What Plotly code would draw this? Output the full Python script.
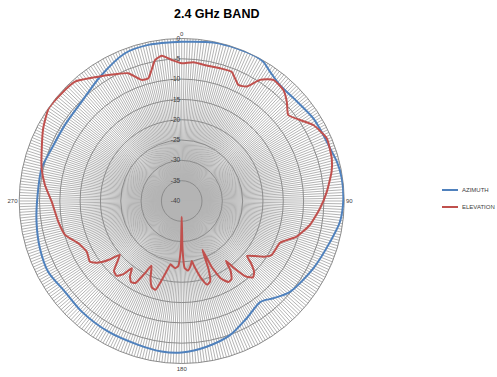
import plotly.graph_objects as go

# ---- data ----
az_theta = [0, 11.3, 20, 27, 30.4, 34.3, 40.3, 47.4, 57.9, 65, 70.4, 75.8, 81.9, 89, 97.4,
            105.3, 117.1, 130, 136.7, 142, 151, 160.2, 170.3, 180, 187.6, 196.8, 209.3,
            222.1, 232.1, 242.1, 251.5, 261.9, 272.4, 283.1, 292.1, 303.1, 314.8, 326.7,
            339, 347.9, 356.4, 360]
az_db = [-0.8, -0.2, -0.05, 0, -0.3, -1.45, -2.6, -2.6, -1.75, -1.55, -1.25, -0.6, -0.2, -0.2, -0.7,
         -2.1, -3.6, -5.2, -7.1, -8.5, -7.0, -4.9, -3.6, -2.7, -2.6, -3.0, -3.1,
         -3.3, -3.6, -2.8, -3.2, -3.9, -4.5, -4.6, -5.5, -5.7, -5.3, -3.4,
         -1.05, -0.7, -0.86, -0.8]

el_theta = [0, 4.8, 10.5, 16.1, 21.1, 26, 29.6, 32.9, 37.1, 42.5, 46.6, 51.1, 55.6, 60, 66.6,
            74.1, 78.9, 86.3, 93, 100.6, 107.2, 113, 117, 121, 124, 127, 130, 132, 134.5,
            137, 139.5, 142, 143.5, 145, 147.5, 150, 153, 155.5, 157, 158.5, 160.5, 163,
            166, 169, 170.5, 172, 175, 177.5, 179, 180, 181, 183, 185.5, 188, 190, 192,
            194.5, 196.5, 199, 202, 205, 207, 209.5, 212, 214.5, 216.5, 218.5, 221, 224,
            227, 229, 231, 233.5, 236.5, 239, 242, 247.8, 253.8,
            260.5, 269.7, 276.7, 283.1, 290.6, 297.7, 304.8, 311.7, 318.2, 326.1, 332.2,
            337.3, 341.7, 344.8, 349.3, 352.2, 356, 360]
el_db = [-6.1, -5.7, -6.1, -6.0, -5.9, -8.2, -7.6, -4.5, -2.6, -2.95, -4.4, -6.3, -4.7, -2.6, -1.1,
         -1.6, -2.4, -4.2, -5.9, -7.9, -10.4, -13.7, -14.0, -14.2, -15.5, -17.5, -19.0, -17.0, -15.0,
         -14.3, -15.5, -19.0, -21.7, -19.0, -17.2, -17.0, -18.5, -22.0, -27.0, -22.0, -19.0, -18.5,
         -20.5, -23.5, -25.0, -24.0, -22.8, -23.5, -28.0, -36.1, -28.4, -24.0, -23.4, -23.8, -24.2, -22.5,
         -19.5, -17.2, -17.5, -19.5, -22.4, -20.0, -16.8, -16.5, -17.5, -19.4, -17.0, -15.6, -16.0,
         -18.5, -19.8, -17.0, -14.5, -12.9, -13.2, -13.5, -12.5, -10.1,
         -9.2, -8.0, -6.1, -4.6, -3.2, -1.5, -0.1, -0.3, -0.6, -3.15, -4.75,
         -5.9, -8.6, -8.7, -4.7, -3.9, -5.2, -6.1]

radial_ticks = [-40, -35, -30, -25, -20, -15, -10, -5, 0]
angle_labels = {0: "0", 90: "90", 180: "180", 270: "270"}

BLUE = "#4F81BD"
RED = "#C0504D"

fig = go.Figure()
fig.add_trace(go.Scatterpolar(r=az_db, theta=az_theta, mode="lines", name="AZIMUTH",
                              line=dict(color=BLUE, width=2, shape="spline", smoothing=0.8),
                              showlegend=False))
fig.add_trace(go.Scatterpolar(r=el_db, theta=el_theta, mode="lines", name="ELEVATION",
                              line=dict(color=RED, width=2, shape="spline", smoothing=0.5),
                              showlegend=False))

spokes = list(range(0, 360))
fig.update_layout(
    width=497, height=377,
    margin=dict(l=0, r=0, t=0, b=0),
    paper_bgcolor="white",
    font=dict(family="Liberation Sans, Arial, sans-serif", color="#404040"),
    polar=dict(
        domain=dict(x=[0.0386, 0.6926], y=[0.0358, 0.8979]),
        bgcolor="white",
        radialaxis=dict(range=[-40, 0], tickvals=radial_ticks,
                        ticktext=[str(v) for v in radial_ticks],
                        angle=90, tickangle=90, side="counterclockwise",
                        showline=False, ticks="", tickfont=dict(size=6.5, color="#404040"),
                        gridcolor="#8c8c8c", gridwidth=1, layer="below traces"),
        angularaxis=dict(rotation=90, direction="clockwise",
                         tickmode="array", tickvals=spokes,
                         ticktext=[angle_labels.get(v, "") for v in spokes],
                         ticks="", tickfont=dict(size=6, color="#404040"),
                         gridcolor="#b4b4b4", gridwidth=0.8,
                         showline=True, linecolor="#8c8c8c", linewidth=1,
                         layer="below traces"),
    ),
)

# title
fig.add_annotation(text="<b>2.4 GHz BAND</b>", x=216/497, y=1-14/377, xref="paper", yref="paper",
                   showarrow=False, font=dict(size=12.5, color="black",
                                              family="Liberation Sans, Arial, sans-serif"),
                   xanchor="center", yanchor="middle")

# legend (drawn manually)
for i, (name, col) in enumerate([("AZIMUTH", BLUE), ("ELEVATION", RED)]):
    yy = 1 - (190 + 17*i)/377
    fig.add_shape(type="line", xref="paper", yref="paper",
                  x0=442/497, x1=458/497, y0=yy, y1=yy, line=dict(color=col, width=2))
    fig.add_annotation(text=name, x=460/497, y=yy, xref="paper", yref="paper",
                       showarrow=False, xanchor="left", yanchor="middle",
                       font=dict(size=6, color="#404040"))

fig.write_html("out.html", config={"displayModeBar": False},
               post_script="document.body.style.margin='0';document.body.style.overflow='hidden';")
